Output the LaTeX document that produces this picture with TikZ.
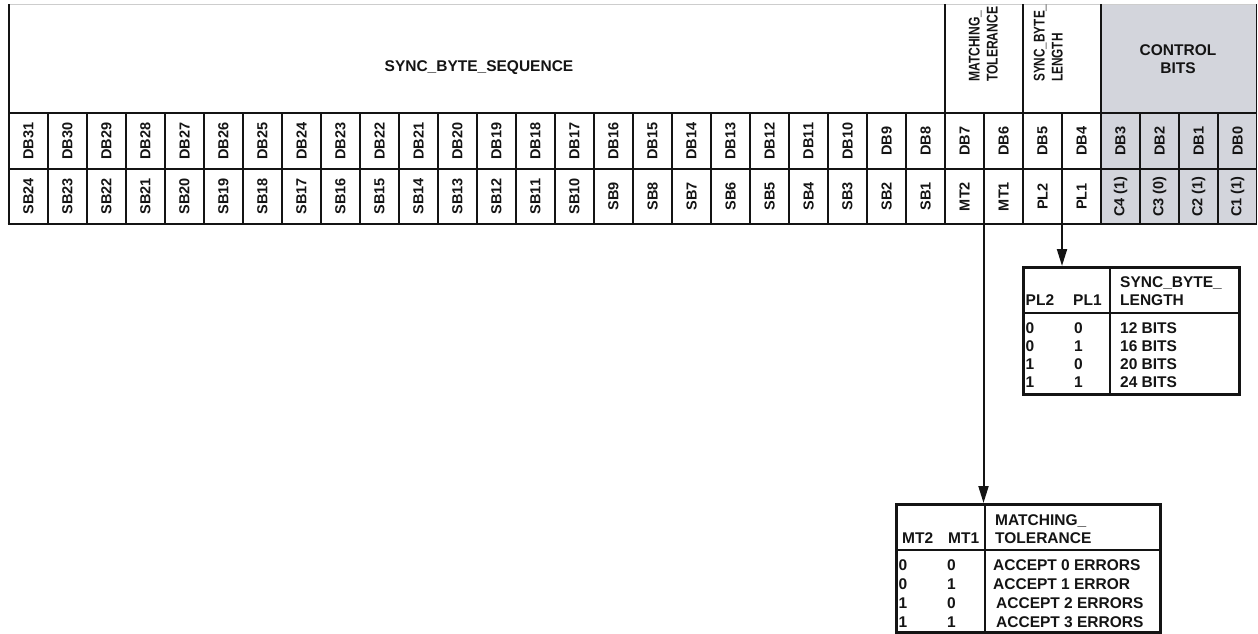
\documentclass[tikz,border=0pt]{standalone}
\usepackage{fontspec}
\setmainfont{Liberation Sans}
\usepackage{graphicx}
\usetikzlibrary{arrows.meta}
\definecolor{ctrlgray}{RGB}{211,213,220}
\definecolor{topgray}{RGB}{205,205,205}
\definecolor{ink}{RGB}{20,20,20}
\newcommand{\cellfont}{\bfseries\fontsize{14.5}{17}\selectfont}
\newcommand{\tabfont}{\bfseries\fontsize{15.5}{18}\selectfont}
\begin{document}
\begin{tikzpicture}[x=1pt,y=-1pt,
  gridline/.style={line width=1.1pt, draw=ink},
  thickline/.style={line width=2.8pt, draw=ink},
  cell/.style={rotate=90, inner sep=0pt, font=\cellfont, text=ink},
  hdr/.style={inner sep=0pt, font=\tabfont, text=ink},
  rothdr/.style={rotate=90, anchor=west, inner sep=0pt, font=\tabfont, text=ink},
  tt/.style={anchor=base west, inner sep=0pt, font=\tabfont, text=ink},
  tabbox/.style={draw=ink, line width=2.5pt, anchor=north west, inner sep=0pt},
  tabline/.style={line width=1.5pt, draw=ink},
  arr/.style={line width=2pt, draw=ink, -{Triangle[length=17pt,width=10pt,fill=ink]}}]
\useasboundingbox (0,0) rectangle (1258,633);
% control-bits background
\fill[ctrlgray] (1101,4) rectangle (1257,224);
% top light line
\draw[topgray, line width=1pt] (9,4) -- (1257,4);
% horizontal grid lines
\draw[gridline] (9,113) -- (1257,113);
\draw[gridline] (9,169) -- (1257,169);
% thin vertical grid lines in the two body rows
\foreach \i in {1,...,31} \draw[gridline] ({9+39*\i},113) -- ({9+39*\i},224);
\draw[gridline] (1256.5,4) -- (1256.5,224);
% thick group separators and frame
\foreach \i in {24,26,28} \draw[thickline] ({9+39*\i},4) -- ({9+39*\i},224);
\draw[thickline] (9,4) -- (9,225.4);
\draw[thickline] (7.6,224) -- (1257,224);
% DB row
\foreach \i in {0,...,31}{
  \pgfmathtruncatemacro{\d}{31-\i}
  \node[cell] (db\d) at ({9+39*\i+19.5},141) {DB\d};
}
% SB row
\foreach \i in {0,...,23}{
  \pgfmathtruncatemacro{\s}{24-\i}
  \node[cell] (sb\s) at ({9+39*\i+19.5},196.5) {SB\s};
}
\node[cell] (mt2) at ({9+39*24+19.5},196.5) {MT2};
\node[cell] (mt1) at ({9+39*25+19.5},196.5) {MT1};
\node[cell] (pl2) at ({9+39*26+19.5},196.5) {PL2};
\node[cell] (pl1) at ({9+39*27+19.5},196.5) {PL1};
\node[cell] (c4) at ({9+39*28+19.5},196.5) {C4 (1)};
\node[cell] (c3) at ({9+39*29+19.5},196.5) {C3 (0)};
\node[cell] (c2) at ({9+39*30+19.5},196.5) {C2 (1)};
\node[cell] (c1) at ({9+39*31+19.5},196.5) {C1 (1)};
% header texts
\node[hdr] (seqhdr) at (479,67.5) {SYNC\_BYTE\_SEQUENCE};
\node[rothdr] (mthdr) at (985,82) {\scalebox{0.78}[1]{\begin{tabular}{@{}l@{}}MATCHING\_\\TOLERANCE\end{tabular}}};
\node[rothdr] (plhdr) at (1050,82) {\scalebox{0.76}[1]{\begin{tabular}{@{}l@{}}SYNC\_BYTE\_\\LENGTH\end{tabular}}};
\node[hdr, align=center] (ctrlhdr) at (1178,59) {CONTROL\\BITS};
% sync byte length table
\node[tabbox, minimum width=216pt, minimum height=127pt] (pltab) at (1022,266) {};
\draw[tabline] (1110,266) -- (1110,393);
\draw[tabline] (1022,313) -- (1238,313);
\node[tt] (plh1) at (1120,287.5) {SYNC\_BYTE\_};
\node[tt] (plh2) at (1120,305.5) {LENGTH};
\node[tt] (plh3) at (1025.5,305.5) {PL2};
\node[tt] (plh4) at (1073,305.5) {PL1};
\foreach \r/\a/\b/\t [count=\k] in {333.5/0/0/12 BITS, 351.5/0/1/16 BITS, 369.5/1/0/20 BITS, 387.5/1/1/24 BITS}{
  \node[tt] (pla\k) at (1025.5,\r) {\a};
  \node[tt] (plb\k) at (1074,\r) {\b};
  \node[tt] (plc\k) at (1120,\r) {\t};
}
% matching tolerance table
\node[tabbox, minimum width=264pt, minimum height=128pt] (mttab) at (895,503) {};
\draw[tabline] (985,503) -- (985,631);
\draw[tabline] (895,550) -- (1159,550);
\node[tt] (mth1) at (995,525.5) {MATCHING\_};
\node[tt] (mth2) at (995,543.5) {TOLERANCE};
\node[tt] (mth3) at (902,543.5) {MT2};
\node[tt] (mth4) at (948,543.5) {MT1};
\foreach \r/\a/\b/\x/\t [count=\k] in {570.5/0/0/993/ACCEPT 0 ERRORS, 589/0/1/993/ACCEPT 1 ERROR, 608/1/0/996/ACCEPT 2 ERRORS, 627/1/1/996/ACCEPT 3 ERRORS}{
  \node[tt] (mta\k) at (898.5,\r) {\a};
  \node[tt] (mtb\k) at (947,\r) {\b};
  \node[tt] (mtc\k) at (\x,\r) {\t};
}
% connectors
\coordinate (plsrc) at (1062,224);
\coordinate (mtsrc) at (983.5,224);
\draw[arr] (plsrc) -- (plsrc |- pltab.north);
\draw[arr] (mtsrc) -- (mtsrc |- mttab.north);
\end{tikzpicture}
\end{document}
